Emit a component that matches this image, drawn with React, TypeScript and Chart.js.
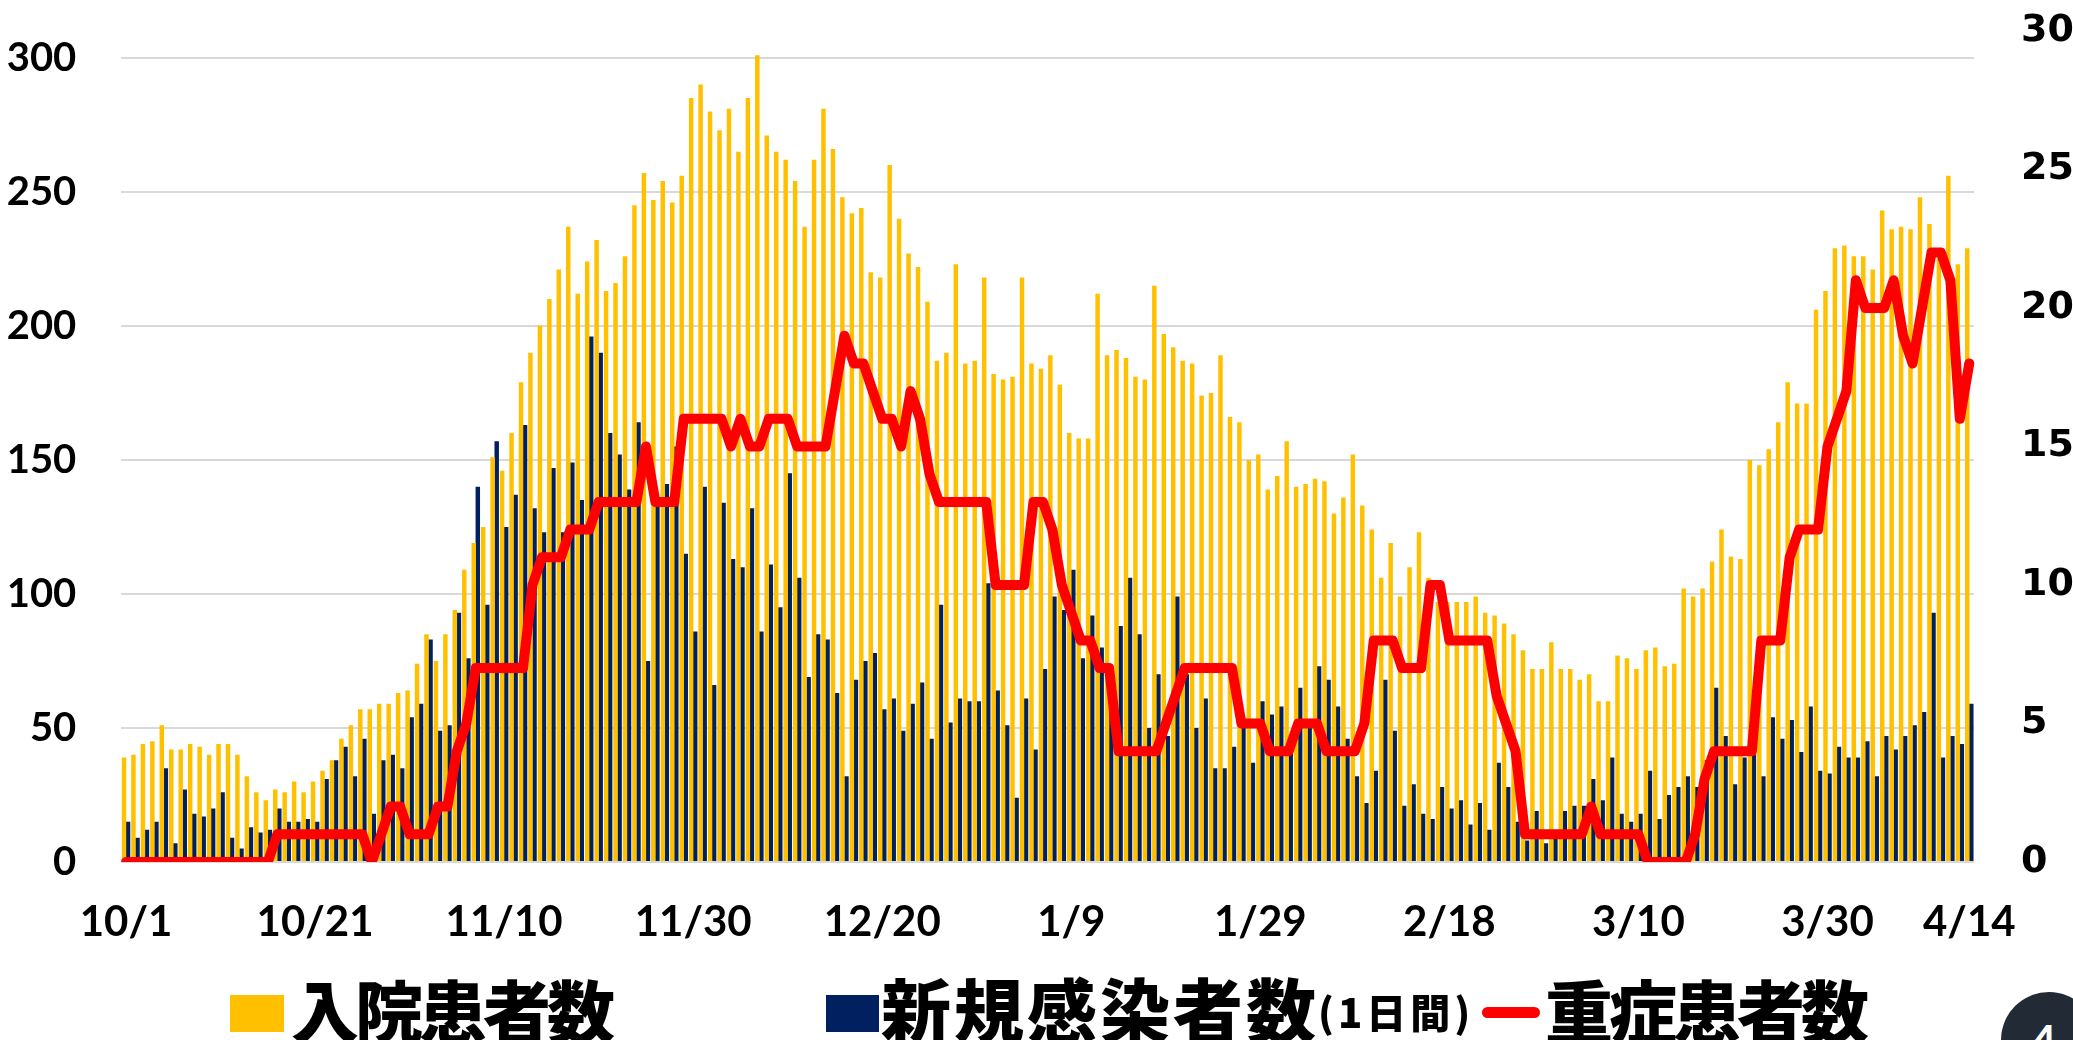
import React, { useEffect, useRef } from 'react';
import { Chart, registerables } from 'chart.js';

Chart.register(...registerables);

// ---- categories (daily, 2020/10/1 .. 2021/4/14) ----
const DAY_COUNT = 196;
const DATES: string[] = [];
for (let i = 0; i < DAY_COUNT; i++) {
  const d = new Date(2020, 9, 1 + i);
  DATES.push(`${d.getMonth() + 1}/${d.getDate()}`);
}

const X_TICK_LABELS = ['10/1', '10/21', '11/10', '11/30', '12/20', '1/9', '1/29', '2/18', '3/10', '3/30', '4/14'];

// 入院患者数
const HOSPITALIZED = [
  39, 40, 44, 45, 51, 42, 42, 44, 43, 40,
  44, 44, 40, 32, 26, 23, 27, 26, 30, 26,
  30, 34, 38, 46, 51, 57, 57, 59, 59, 63,
  64, 74, 85, 75, 85, 94, 109, 119, 125, 151,
  146, 160, 179, 190, 200, 210, 221, 237, 212, 224,
  232, 213, 216, 226, 245, 257, 247, 254, 246, 256,
  285, 290, 280, 273, 281, 265, 285, 301, 271, 265,
  262, 254, 237, 262, 281, 266, 248, 242, 244, 220,
  218, 260, 240, 227, 222, 209, 187, 190, 223, 186,
  187, 218, 182, 180, 181, 218, 186, 184, 189, 178,
  160, 158, 158, 212, 189, 191, 188, 181, 180, 215,
  197, 192, 187, 186, 174, 175, 189, 166, 164, 150,
  152, 139, 144, 157, 140, 141, 143, 142, 130, 136,
  152, 133, 124, 106, 119, 99, 110, 123, 106, 97,
  97, 97, 97, 99, 93, 92, 89, 85, 79, 72,
  72, 82, 72, 72, 68, 70, 60, 60, 77, 76,
  72, 79, 80, 73, 74, 102, 99, 102, 112, 124,
  114, 113, 150, 148, 154, 164, 179, 171, 171, 206,
  213, 229, 230, 226, 226, 221, 243, 236, 237, 236,
  248, 238, 225, 256, 223, 229,
];

// 新規感染者数（1日間）
const NEW_CASES = [
  15, 9, 12, 15, 35, 7, 27, 18, 17, 20,
  26, 9, 5, 13, 11, 12, 20, 15, 15, 16,
  15, 31, 38, 43, 32, 46, 18, 38, 40, 35,
  54, 59, 83, 49, 51, 93, 76, 140, 96, 157,
  125, 137, 163, 132, 123, 147, 123, 149, 135, 196,
  190, 160, 152, 139, 164, 75, 135, 141, 155, 115,
  86, 140, 66, 134, 113, 110, 132, 86, 111, 95,
  145, 106, 69, 85, 83, 63, 32, 68, 75, 78,
  57, 61, 49, 59, 67, 46, 96, 52, 61, 60,
  60, 104, 64, 51, 24, 61, 42, 72, 99, 94,
  109, 76, 92, 80, 72, 88, 106, 85, 50, 70,
  47, 99, 70, 50, 61, 35, 35, 43, 50, 37,
  60, 55, 58, 45, 65, 50, 73, 68, 58, 46,
  32, 22, 34, 68, 49, 21, 29, 18, 16, 28,
  20, 23, 14, 22, 12, 37, 28, 15, 8, 19,
  7, 9, 19, 21, 21, 31, 23, 39, 18, 15,
  18, 34, 16, 25, 28, 32, 28, 38, 65, 47,
  29, 39, 40, 32, 54, 46, 53, 41, 58, 34,
  33, 43, 39, 39, 45, 32, 47, 42, 47, 51,
  56, 93, 39, 47, 44, 59,
];

// 重症患者数
const SEVERE = [
  0, 0, 0, 0, 0, 0, 0, 0, 0, 0,
  0, 0, 0, 0, 0, 0, 1, 1, 1, 1,
  1, 1, 1, 1, 1, 1, 0, 1, 2, 2,
  1, 1, 1, 2, 2, 4, 5, 7, 7, 7,
  7, 7, 7, 10, 11, 11, 11, 12, 12, 12,
  13, 13, 13, 13, 13, 15, 13, 13, 13, 16,
  16, 16, 16, 16, 15, 16, 15, 15, 16, 16,
  16, 15, 15, 15, 15, 17, 19, 18, 18, 17,
  16, 16, 15, 17, 16, 14, 13, 13, 13, 13,
  13, 13, 10, 10, 10, 10, 13, 13, 12, 10,
  9, 8, 8, 7, 7, 4, 4, 4, 4, 4,
  5, 6, 7, 7, 7, 7, 7, 7, 5, 5,
  5, 4, 4, 4, 5, 5, 5, 4, 4, 4,
  4, 5, 8, 8, 8, 7, 7, 7, 10, 10,
  8, 8, 8, 8, 8, 6, 5, 4, 1, 1,
  1, 1, 1, 1, 1, 2, 1, 1, 1, 1,
  1, 0, 0, 0, 0, 0, 1, 3, 4, 4,
  4, 4, 4, 8, 8, 8, 11, 12, 12, 12,
  15, 16, 17, 21, 20, 20, 20, 21, 19, 18,
  20, 22, 22, 21, 16, 18,
];

const LEFT_TICK_STEP = 50;
const RIGHT_TICK_STEP = 5;

const COLOR_YELLOW = '#FFC000';
const COLOR_NAVY = '#002060';
const COLOR_RED = '#FF0000';

const W = 2073;
const H = 960;
const PLOT_LEFT = 121.3;
const PLOT_RIGHT = 1974;
const PLOT_TOP = 31;
const PLOT_BOTTOM = 862;

const CJK = "'Noto Sans CJK JP', 'Noto Sans CJK SC', sans-serif";

export default function App() {
  const canvasRef = useRef<HTMLCanvasElement | null>(null);

  useEffect(() => {
    const canvas = canvasRef.current;
    if (!canvas) return;
    const chart = new Chart(canvas, {
      type: 'bar',
      data: {
        labels: DATES,
        datasets: [
          {
            type: 'line',
            label: '重症患者数',
            data: SEVERE,
            yAxisID: 'y1',
            borderColor: COLOR_RED,
            backgroundColor: COLOR_RED,
            borderWidth: 10,
            pointRadius: 0,
            tension: 0,
            borderJoinStyle: 'round',
            borderCapStyle: 'round',
            order: 0,
          } as any,
          {
            type: 'bar',
            label: '入院患者数',
            data: HOSPITALIZED,
            yAxisID: 'y',
            backgroundColor: COLOR_YELLOW,
            borderWidth: 0,
            categoryPercentage: 0.86,
            barPercentage: 1.1,
            order: 1,
          },
          {
            type: 'bar',
            label: '新規感染者数(1日間)',
            data: NEW_CASES,
            yAxisID: 'y',
            backgroundColor: COLOR_NAVY,
            borderWidth: 0,
            categoryPercentage: 0.86,
            barPercentage: 1.1,
            order: 2,
          },
        ],
      },
      options: {
        animation: false,
        responsive: false,
        devicePixelRatio: 1,
        layout: { padding: { top: PLOT_TOP, left: 0, right: 0, bottom: 0 } },
        plugins: { legend: { display: false }, tooltip: { enabled: false } },
        scales: {
          x: {
            type: 'category',
            offset: true,
            grid: { display: false, drawTicks: false },
            border: { display: false },
            ticks: {
              autoSkip: false,
              maxRotation: 0,
              minRotation: 0,
              padding: 35,
              color: '#000',
              font: { family: 'Lato', weight: 'bold', size: 42 },
              callback: (_v: any, index: number) => {
                const lab = DATES[index];
                return X_TICK_LABELS.includes(lab) ? lab : '';
              },
            },
            afterFit: (s: any) => {
              s.height = H - PLOT_BOTTOM;
              s.paddingLeft = 0;
              s.paddingRight = 0;
            },
          },
          y: {
            position: 'left',
            min: 0,
            max: 310,
            grid: { color: '#d9d9d9', lineWidth: 2, drawTicks: false },
            border: { display: false },
            ticks: {
              stepSize: LEFT_TICK_STEP,
              includeBounds: false,
              padding: 45,
              color: '#000',
              font: { family: 'Lato', weight: 'bold', size: 40 },
            },
            afterBuildTicks: (s: any) => {
              s.ticks = s.ticks.filter((t: any) => t.value % LEFT_TICK_STEP === 0);
            },
            afterFit: (s: any) => {
              s.width = PLOT_LEFT;
              s.paddingTop = 0;
              s.paddingBottom = 0;
            },
          },
          y1: {
            position: 'right',
            min: 0,
            max: 30,
            grid: { display: false, drawTicks: false },
            border: { display: false },
            ticks: {
              stepSize: RIGHT_TICK_STEP,
              padding: 47,
              color: '#000',
              font: { family: 'DejaVu Sans', weight: 'bold', size: 38 },
            },
            afterFit: (s: any) => {
              s.width = W - PLOT_RIGHT;
              s.paddingTop = 0;
              s.paddingBottom = 0;
            },
          },
        },
      } as any,
    });
    return () => chart.destroy();
  }, []);

  const bigText: React.CSSProperties = {
    position: 'absolute',
    top: 975,
    fontFamily: CJK,
    fontWeight: 900,
    fontSize: 68,
    lineHeight: '68px',
    letterSpacing: '-4px',
    color: '#000',
    whiteSpace: 'nowrap',
  };

  return (
    <div
      style={{
        position: 'absolute',
        left: 0,
        top: 0,
        width: W,
        height: 1040,
        overflow: 'hidden',
        background: '#fff',
      }}
    >
      <canvas
        ref={canvasRef}
        width={W}
        height={H}
        style={{ position: 'absolute', left: 0, top: 0, width: W, height: H }}
      />
      {/* legend */}
      <div style={{ position: 'absolute', left: 230, top: 995, width: 54, height: 37, background: COLOR_YELLOW }} />
      <div style={{ ...bigText, left: 291 }}>入院患者数</div>
      <div style={{ position: 'absolute', left: 826, top: 995, width: 53, height: 37, background: COLOR_NAVY }} />
      <div style={{ ...bigText, left: 881, fontSize: 70, lineHeight: '70px', top: 973, letterSpacing: '3px' }}>新規感染者数</div>
      <div
        style={{
          position: 'absolute',
          left: 1318,
          top: 991,
          fontFamily: CJK,
          fontWeight: 900,
          fontSize: 40,
          lineHeight: '40px',
          letterSpacing: '4px',
          color: '#000',
          whiteSpace: 'nowrap',
        }}
      >
        (1日間)
      </div>
      <div
        style={{
          position: 'absolute',
          left: 1482,
          top: 1007,
          width: 58,
          height: 11,
          borderRadius: 6,
          background: COLOR_RED,
        }}
      />
      <div style={{ ...bigText, left: 1545 }}>重症患者数</div>
      {/* page number badge */}
      <div
        style={{
          position: 'absolute',
          left: 2001,
          top: 992,
          width: 96,
          height: 96,
          borderRadius: '50%',
          background: '#222a35',
          color: '#fff',
          fontFamily: 'Lato, sans-serif',
          fontWeight: 700,
          fontSize: 44,
          lineHeight: '96px',
          textAlign: 'left',
          paddingLeft: 30,
          boxSizing: 'border-box',
        }}
      >
        4
      </div>
    </div>
  );
}
